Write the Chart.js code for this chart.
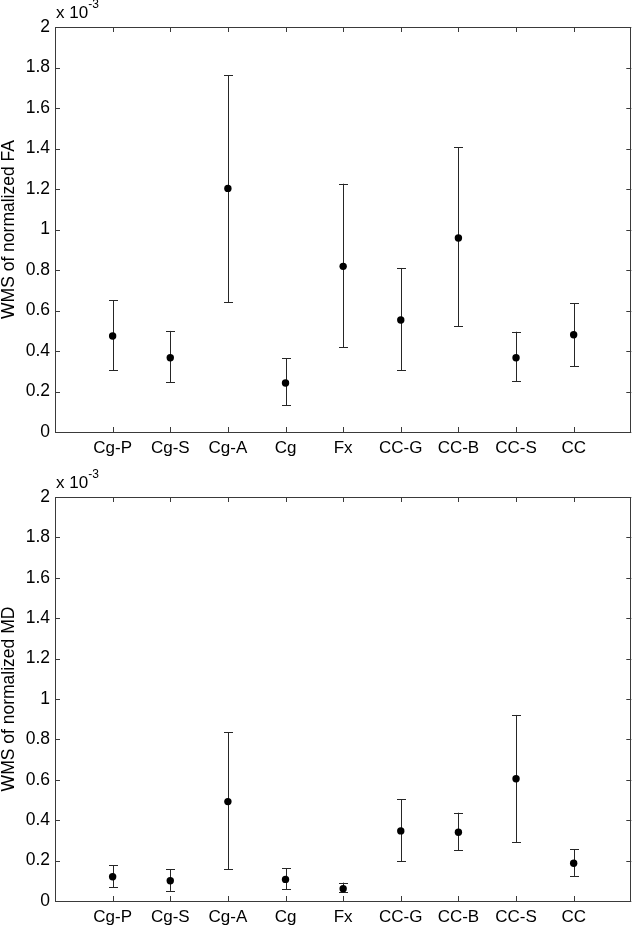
<!DOCTYPE html>
<html>
<head>
<meta charset="utf-8">
<script src="https://cdn.jsdelivr.net/npm/chart.js@4.4.1/dist/chart.umd.min.js"></script>
<style>
  html, body { margin: 0; padding: 0; background: #fff; }
  .panel { position: absolute; left: 0; width: 635px; height: 463px; }
  #top { top: 0; }
  #bottom { top: 463px; }
</style>
</head>
<body>
<div class="panel" id="top"><canvas id="faChart"></canvas></div>
<div class="panel" id="bottom"><canvas id="mdChart"></canvas></div>
<script>
// values are in units of 1e-3 (the axis shows "x 10^-3")
const categories = ["Cg-P", "Cg-S", "Cg-A", "Cg", "Fx", "CC-G", "CC-B", "CC-S", "CC"];

const faMean = [0.474, 0.367, 1.203, 0.242, 0.818, 0.553, 0.958, 0.367, 0.48];
const faUpper = [0.65, 0.499, 1.761, 0.364, 1.226, 0.81, 1.407, 0.495, 0.636];
const faLower = [0.305, 0.245, 0.642, 0.132, 0.418, 0.306, 0.523, 0.252, 0.324];

const mdMean = [0.12, 0.1, 0.492, 0.107, 0.061, 0.347, 0.34, 0.605, 0.187];
const mdUpper = [0.176, 0.157, 0.835, 0.163, 0.091, 0.503, 0.437, 0.921, 0.256];
const mdLower = [0.069, 0.05, 0.157, 0.058, 0.043, 0.196, 0.251, 0.292, 0.124];

const yTicks = [0, 0.2, 0.4, 0.6, 0.8, 1, 1.2, 1.4, 1.6, 1.8, 2];

const FONT = "'Liberation Sans', Arial, Helvetica, sans-serif";
const AXIS_COLOR = "#3a3a3a";

// draws the MATLAB style box, inward ticks, error bars and the exponent label
const matlabAxes = {
  id: "matlabAxes",
  beforeDatasetsDraw(chart) {
    const { ctx, scales } = chart;
    const x = scales.x;
    const y = scales.y;
    const { upper, lower } = chart.options.plugins.matlabAxes;
    const cap = 4.5;
    ctx.save();
    ctx.strokeStyle = "#262626";
    ctx.lineWidth = 1;
    categories.forEach((c, i) => {
      const px = Math.round(x.getPixelForValue(i + 1)) + 0.5;
      const top = y.getPixelForValue(upper[i]);
      const bot = y.getPixelForValue(lower[i]);
      ctx.beginPath();
      ctx.moveTo(px, top);
      ctx.lineTo(px, bot);
      ctx.moveTo(px - cap, Math.round(top) + 0.5);
      ctx.lineTo(px + cap, Math.round(top) + 0.5);
      ctx.moveTo(px - cap, Math.round(bot) + 0.5);
      ctx.lineTo(px + cap, Math.round(bot) + 0.5);
      ctx.stroke();
    });
    ctx.restore();
  },
  afterDraw(chart) {
    const { ctx, chartArea, scales } = chart;
    const { left, right, top, bottom } = chartArea;
    const len = 5;
    ctx.save();
    ctx.strokeStyle = AXIS_COLOR;
    ctx.lineWidth = 1;
    ctx.beginPath();
    ctx.rect(Math.round(left) + 0.5, Math.round(top) + 0.5, Math.round(right - left) - 1, Math.round(bottom - top));
    categories.forEach((c, i) => {
      const px = Math.round(scales.x.getPixelForValue(i + 1)) + 0.5;
      ctx.moveTo(px, bottom);
      ctx.lineTo(px, bottom - len);
      ctx.moveTo(px, top);
      ctx.lineTo(px, top + len);
    });
    yTicks.forEach((v) => {
      const py = Math.round(scales.y.getPixelForValue(v)) + 0.5;
      ctx.moveTo(left, py);
      ctx.lineTo(left + len, py);
      ctx.moveTo(right, py);
      ctx.lineTo(right - len, py);
    });
    ctx.stroke();

    ctx.fillStyle = "#000";
    ctx.textBaseline = "alphabetic";
    ctx.textAlign = "left";
    ctx.font = "17px " + FONT;
    ctx.fillText("x 10", left + 1, top - 9);
    const w = ctx.measureText("x 10").width;
    ctx.font = "12px " + FONT;
    ctx.fillText("-3", left + 1 + w, top - 19);
    ctx.restore();
  },
};

function makeChart(canvasId, mean, upper, lower, yTitle, padTop, xHeight) {
  return new Chart(document.getElementById(canvasId), {
    type: "scatter",
    data: {
      datasets: [
        {
          label: yTitle,
          data: mean.map((v, i) => ({ x: i + 1, y: v })),
          pointRadius: 3.7,
          pointHoverRadius: 3.7,
          pointBackgroundColor: "#000",
          pointBorderColor: "#000",
          pointBorderWidth: 0,
        },
      ],
    },
    options: {
      responsive: true,
      maintainAspectRatio: false,
      animation: false,
      layout: { padding: { top: padTop, right: 1, left: 0, bottom: 0 } },
      plugins: {
        legend: { display: false },
        tooltip: { enabled: false },
        matlabAxes: { upper, lower },
      },
      scales: {
        x: {
          type: "linear",
          min: 0,
          max: 10,
          grid: { display: false, drawTicks: false },
          border: { display: false },
          afterBuildTicks: (scale) => {
            scale.ticks = categories.map((c, i) => ({ value: i + 1 }));
          },
          afterFit: (scale) => {
            scale.height = xHeight;
          },
          ticks: {
            autoSkip: false,
            maxRotation: 0,
            padding: 6,
            color: "#000",
            font: { family: FONT, size: 17 },
            callback: (v) => categories[v - 1] || "",
          },
        },
        y: {
          min: 0,
          max: 2,
          grid: { display: false, drawTicks: false },
          border: { display: false },
          afterBuildTicks: (scale) => {
            scale.ticks = yTicks.map((v) => ({ value: v }));
          },
          afterFit: (scale) => {
            scale.width = 55;
          },
          title: {
            display: true,
            text: yTitle,
            color: "#000",
            font: { family: FONT, size: 17.5, lineHeight: 1 },
            padding: { top: 0, bottom: 0 },
          },
          ticks: {
            padding: 5,
            color: "#000",
            font: { family: FONT, size: 17.5 },
            callback: (v) => String(+v.toFixed(1)),
          },
        },
      },
    },
    plugins: [matlabAxes],
  });
}

makeChart("faChart", faMean, faUpper, faLower, "WMS of normalized FA", 27, 31);
makeChart("mdChart", mdMean, mdUpper, mdLower, "WMS of normalized MD", 34, 25);
</script>
</body>
</html>
